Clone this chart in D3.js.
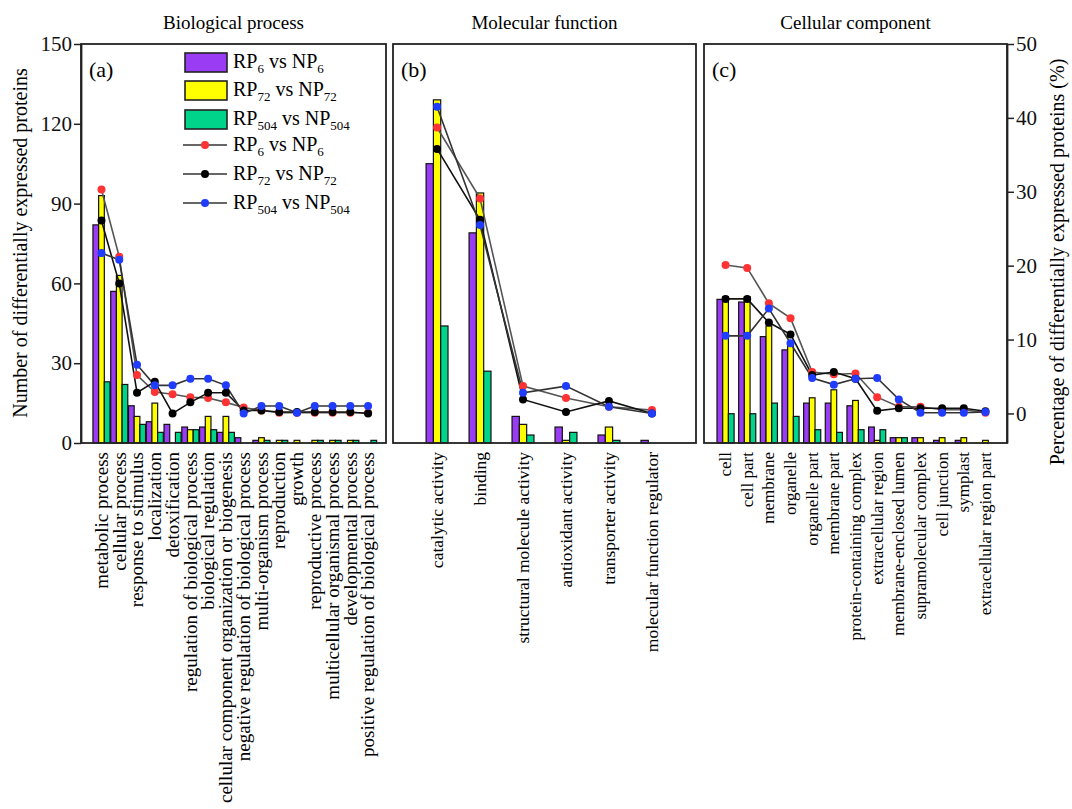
<!DOCTYPE html>
<html>
<head>
<meta charset="utf-8">
<script src="https://cdn.jsdelivr.net/npm/d3@7"></script>
<style>
  body { margin: 0; background: #fff; }
  svg text { font-family: "Times New Roman", "Liberation Serif", "DejaVu Serif", serif; }
</style>
</head>
<body>
<svg id="chart" width="1072" height="809"></svg>
<script>
// categories
var bpCats = ["metabolic process","cellular process","response to stimulus","localization","detoxification",
  "regulation of biological process","biological regulation","cellular component organization or biogenesis",
  "negative regulation of biological process","multi-organism process","reproduction","growth",
  "reproductive process","multicellular organismal process","developmental process",
  "positive regulation of biological process"]
var mfCats = ["catalytic activity","binding","structural molecule activity","antioxidant activity",
  "transporter activity","molecular function regulator"]
var ccCats = ["cell","cell part","membrane","organelle","organelle part","membrane part",
  "protein-containing complex","extracellular region","membrane-enclosed lumen","supramolecular complex",
  "cell junction","symplast","extracellular region part"]

// counts (bars, left axis)
var bpRP6   = [82,57,14,8,7,6,6,4,2,1,0,0,0,0,0,0]
var bpRP72  = [93,63,10,15,0,5,10,10,0,2,1,1,1,1,1,0]
var bpRP504 = [23,22,7,4,4,5,5,4,0,1,1,0,1,1,1,1]
var mfRP6   = [105,79,10,6,3,1]
var mfRP72  = [129,94,7,1,6,0]
var mfRP504 = [44,27,3,4,1,0]
var ccRP6   = [54,53,40,35,15,15,14,6,2,2,1,1,0]
var ccRP72  = [55,55,44,37,17,20,16,1,2,2,2,2,1]
var ccRP504 = [11,11,15,10,5,4,5,5,2,0,0,0,0]

// percentages (lines, right axis)
var bpPct6   = [30.3,21.2,5.2,2.9,2.6,2.2,2.1,1.5,0.8,0.4,0.1,0.1,0.1,0.1,0.1,0.1]
var bpPct72  = [26.1,17.6,2.8,4.3,0,1.5,2.8,2.8,0.4,0.4,0.2,0.2,0.2,0.2,0.2,0]
var bpPct504 = [21.7,20.8,6.6,3.8,3.8,4.7,4.7,3.8,0,1.0,1.0,0.1,1.0,1.0,1.0,1.0]
var mfPct6   = [38.7,29.1,3.7,2.1,0.9,0.45]
var mfPct72  = [35.8,26.2,1.9,0.2,1.7,0]
var mfPct504 = [41.5,25.5,2.8,3.7,0.9,0]
var ccPct6   = [20.1,19.7,14.9,12.9,5.6,5.3,5.4,2.2,0.9,0.9,0.5,0.5,0.1]
var ccPct72  = [15.5,15.5,12.3,10.7,5.2,5.6,4.7,0.35,0.7,0.7,0.7,0.7,0.3]
var ccPct504 = [10.5,10.5,14.2,9.5,4.8,3.9,4.7,4.8,1.9,0.1,0.1,0.1,0.2]

var seriesNames = ["6","72","504"]
var barColors = ["#9b3cf5","#ffff00","#00d38a"]
var dotColors = ["#ff3333","#000000","#1f3cff"]
var lineColors = ["#555555","#111111","#333333"]

var serif = '"Times New Roman", "Liberation Serif", "DejaVu Serif", serif'
var svg = d3.select("#chart").attr("font-family", serif)
var top0 = 44, bottom0 = 443

var yLeft = d3.scaleLinear().domain([0,150]).range([bottom0, top0])
var yRight = d3.scaleLinear().domain([-4,50]).range([bottom0, top0])

var panels = [
  {title:"Biological process", tag:"(a)", cats:bpCats, bars:[bpRP6,bpRP72,bpRP504], pct:[bpPct6,bpPct72,bpPct504],
   x0:81, x1:386, pin:0.04, pout:0.6, align:0.56, labelSize:19},
  {title:"Molecular function", tag:"(b)", cats:mfCats, bars:[mfRP6,mfRP72,mfRP504], pct:[mfPct6,mfPct72,mfPct504],
   x0:393, x1:696, pin:0.49, pout:0.77, align:0.5, labelSize:17.5},
  {title:"Cellular component", tag:"(c)", cats:ccCats, bars:[ccRP6,ccRP72,ccRP504], pct:[ccPct6,ccPct72,ccPct504],
   x0:704, x1:1007, pin:0.21, pout:0.6, align:0.5, labelSize:17}
]

panels.forEach(function(p){
  var x = d3.scaleBand().domain(p.cats).range([p.x0, p.x1])
    .paddingInner(p.pin).paddingOuter(p.pout).align(p.align)
  var xs = d3.scaleBand().domain([0,1,2]).range([0, x.bandwidth()])
  var g = svg.append("g")

  // bars
  p.bars.forEach(function(vals, si){
    g.selectAll(".bar"+si).data(vals).enter().append("rect")
      .attr("x", function(d,i){ return x(p.cats[i]) + xs(si) })
      .attr("y", function(d){ return yLeft(d) })
      .attr("width", xs.bandwidth())
      .attr("height", function(d){ return d > 0 ? yLeft(0) - yLeft(d) : 0 })
      .attr("fill", barColors[si])
      .attr("stroke", "#111")
      .attr("stroke-width", 1.2)
  })

  var cx = function(d,i){ return x(p.cats[i]) + x.bandwidth()/2 }
  var line = d3.line().x(cx).y(function(d){ return yRight(d) })

  p.pct.forEach(function(vals, si){
    g.append("path").datum(vals)
      .attr("d", line)
      .attr("fill", "none")
      .attr("stroke", lineColors[si])
      .attr("stroke-width", 1.6)
  })
  p.pct.forEach(function(vals, si){
    g.selectAll(".dot"+si).data(vals).enter().append("circle")
      .attr("cx", cx)
      .attr("cy", function(d){ return yRight(d) })
      .attr("r", 4)
      .attr("fill", dotColors[si])
  })

  // frame
  g.append("rect")
    .attr("x", p.x0).attr("y", top0)
    .attr("width", p.x1 - p.x0).attr("height", bottom0 - top0)
    .attr("fill", "none").attr("stroke", "#222").attr("stroke-width", 1.8)

  g.append("text")
    .attr("x", (p.x0 + p.x1)/2).attr("y", 29)
    .attr("text-anchor", "middle")
    .style("font-size", "19px")
    .text(p.title)

  g.append("text")
    .attr("x", p.x0 + 8).attr("y", 77)
    .style("font-size", "22px")
    .text(p.tag)

  // category labels
  g.selectAll(".cat").data(p.cats).enter().append("text")
    .attr("transform", function(d){ return "translate(" + (x(d) + x.bandwidth()/2) + ",452) rotate(-90)" })
    .attr("text-anchor", "end")
    .attr("dy", "0.33em")
    .style("font-size", p.labelSize + "px")
    .text(function(d){ return d })
})

// axes
var yAxisL = d3.axisLeft(yLeft).tickValues([0,30,60,90,120,150]).tickSize(7).tickSizeOuter(0)
var yAxisR = d3.axisRight(yRight).tickValues([0,10,20,30,40,50]).tickSize(7).tickSizeOuter(0)

var gl = svg.append("g").attr("transform", "translate(81,0)").call(yAxisL)
var gr = svg.append("g").attr("transform", "translate(1007,0)").call(yAxisR)
;[gl, gr].forEach(function(a){
  a.attr("font-family", serif).attr("font-size", 21)
  a.select(".domain").attr("stroke", "#222").attr("stroke-width", 1.8)
  a.selectAll(".tick line").attr("stroke", "#222").attr("stroke-width", 1.5)
  a.selectAll(".tick text").attr("fill", "#111")
})
gl.selectAll(".tick text").attr("x", -9)
gr.selectAll(".tick text").attr("x", 9)

svg.append("text")
  .attr("transform", "translate(27,243) rotate(-90)")
  .attr("text-anchor", "middle")
  .style("font-size", "20px")
  .text("Number of differentially expressed proteins")

svg.append("text")
  .attr("transform", "translate(1064,262) rotate(-90)")
  .attr("text-anchor", "middle")
  .style("font-size", "20px")
  .text("Percentage of differentially expressed proteins (%)")

// legend
var leg = svg.append("g")
var legY = [62, 90, 119, 145, 174, 203]

function legendLabel(y, sub){
  var t = leg.append("text").attr("x", 233).attr("y", y + 6).style("font-size", "20px")
  t.append("tspan").text("RP")
  t.append("tspan").attr("dy", 5).style("font-size", "13px").text(sub)
  t.append("tspan").attr("dy", -5).text(" vs NP")
  t.append("tspan").attr("dy", 5).style("font-size", "13px").text(sub)
}

seriesNames.forEach(function(s, i){
  leg.append("rect")
    .attr("x", 185).attr("y", legY[i] - 9)
    .attr("width", 42).attr("height", 19)
    .attr("fill", barColors[i]).attr("stroke", "#222").attr("stroke-width", 1.6)
  legendLabel(legY[i], s)
})
seriesNames.forEach(function(s, i){
  var y = legY[i + 3]
  leg.append("line").attr("x1", 183).attr("x2", 227).attr("y1", y).attr("y2", y)
    .attr("stroke", "#333").attr("stroke-width", 1.6)
  leg.append("circle").attr("cx", 205).attr("cy", y).attr("r", 4).attr("fill", dotColors[i])
  legendLabel(y, s)
})
</script>
</body>
</html>
